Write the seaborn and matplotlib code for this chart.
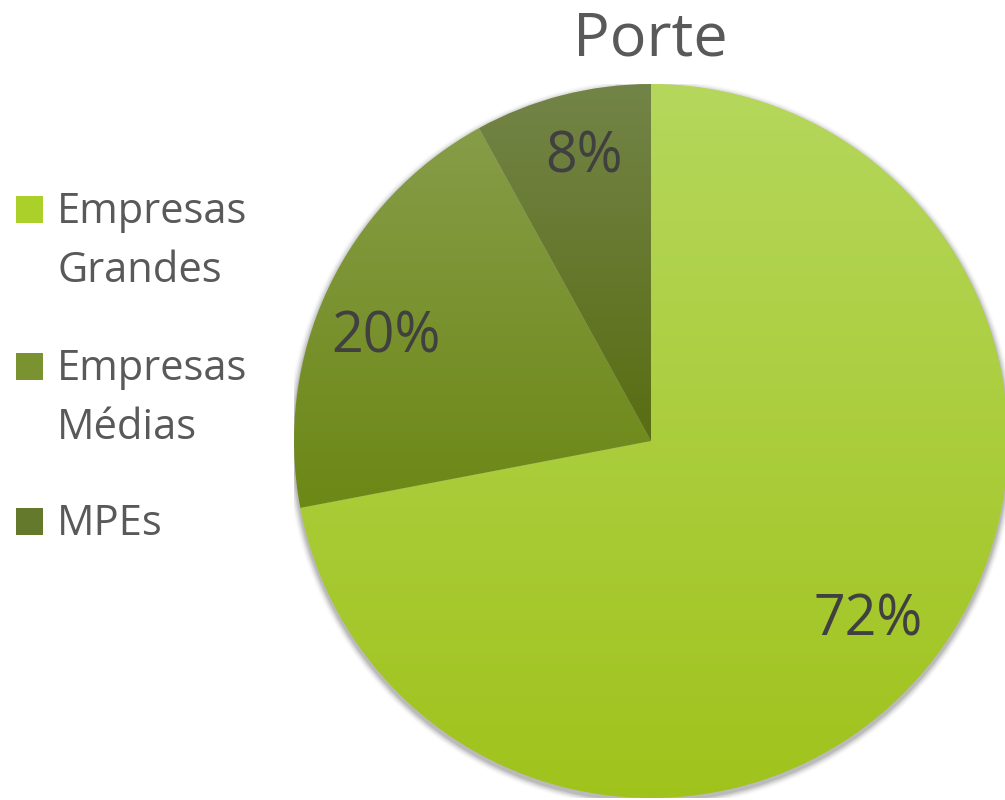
import numpy as np
import matplotlib
matplotlib.use("Agg")
import matplotlib.pyplot as plt
import seaborn as sns
from matplotlib.colors import LinearSegmentedColormap
from matplotlib.patches import Rectangle

# Data
categories = ['Empresas\nGrandes', 'Empresas\nMédias', 'MPEs']
shares = [72, 20, 8]
pct_labels = ['72%', '20%', '8%']
# gradient colours per slice (top, bottom)
top_colors = ['#b5d75c', '#879c48', '#738448']
bottom_colors = ['#a0c31c', '#6c8815', '#596d12']
legend_colors = ['#acd02a', '#7a9230', '#65792c']

sns.set_theme(style='white')
plt.rcParams['font.family'] = ['Open Sans', 'DejaVu Sans']

fig = plt.figure(figsize=(10.05, 8.0), dpi=100)
W, H = 1005, 800
cx, cy, R = 651, 441, 357
ax = fig.add_axes([(cx - R) / W, (H - cy - R) / H, 2 * R / W, 2 * R / H])

wedges, _ = ax.pie(shares, startangle=90, counterclock=False, radius=1,
                   wedgeprops=dict(linewidth=0))
ax.set_aspect('equal')
ax.axis('off')

# soft shadow behind the pie
for k, a in enumerate(np.linspace(0.10, 0.02, 5)):
    c = plt.Circle((0.0, -0.008), 1 + 0.004 * (k + 1), color='black',
                   alpha=a, lw=0, zorder=0)
    ax.add_patch(c)

# vertical gradient fill clipped to each wedge
grad = np.linspace(1, 0, 256).reshape(-1, 1)
for w, ct, cb in zip(wedges, top_colors, bottom_colors):
    w.set_facecolor('none')
    ext = w.get_path().get_extents(w.get_patch_transform())
    cmap = LinearSegmentedColormap.from_list('g', [cb, ct])
    im = ax.imshow(grad, cmap=cmap, aspect='auto', zorder=1,
                   extent=[ext.x0, ext.x1, ext.y0, ext.y1], origin='upper')
    im.set_clip_path(w)

# percentage labels placed along each wedge's mid angle
label_r = [0.79, 0.795, 0.815]
label_dtheta = [0, 4, -1]
for w, lab, r, dt in zip(wedges, pct_labels, label_r, label_dtheta):
    ang = np.deg2rad((w.theta1 + w.theta2) / 2 + dt)
    ax.text(r * np.cos(ang), r * np.sin(ang), lab, ha='center', va='center',
            fontsize=40, color='#404040', zorder=3)

ax.set_xlim(-1, 1)
ax.set_ylim(-1, 1)

fig.text(650 / W, 1 - 40 / H, 'Porte', ha='center', va='center',
         fontsize=44, color='#595959')

# legend drawn by hand: square beside first line of each label
entry_top = [223, 380, 535]   # baseline of first line, px from top
line_gap = 59
for lab, col, base in zip(categories, legend_colors, entry_top):
    fig.patches.append(Rectangle((16 / W, 1 - base / H), 27 / W, 27 / H,
                                 transform=fig.transFigure, facecolor=col,
                                 edgecolor='none'))
    for i, line in enumerate(lab.split('\n')):
        fig.text(57 / W, 1 - (base + i * line_gap) / H, line, ha='left',
                 va='baseline', fontsize=30, color='#595959')

fig.savefig('out.png', dpi=100, facecolor='white')
